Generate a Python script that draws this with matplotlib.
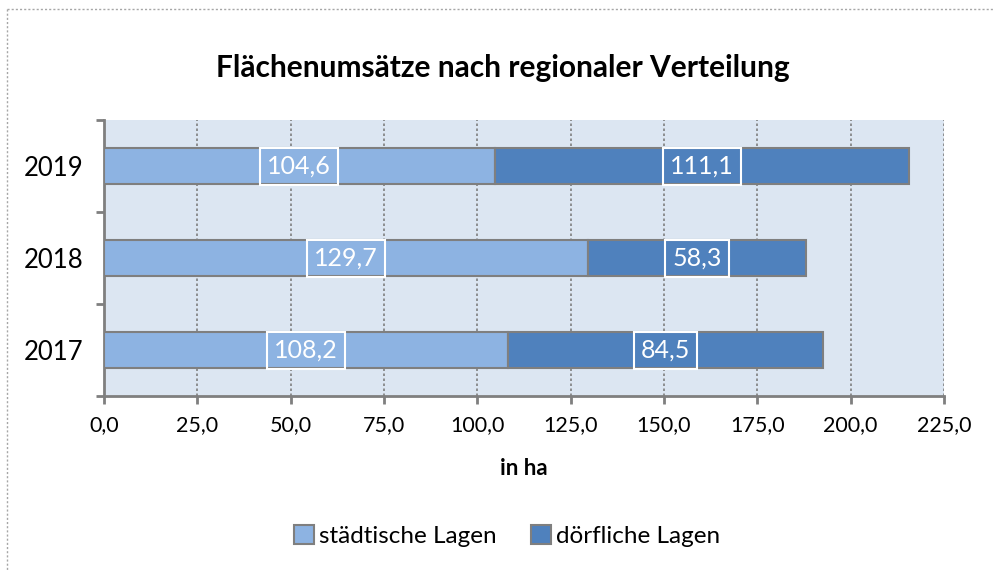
import matplotlib
matplotlib.use("Agg")
import matplotlib.pyplot as plt
from matplotlib.lines import Line2D
from matplotlib.patches import Patch
import numpy as np

plt.rcParams['font.family'] = ['Lato', 'DejaVu Sans']

years = ["2017", "2018", "2019"]
staedtisch = [108.2, 129.7, 104.6]
doerflich = [84.5, 58.3, 111.1]
series_names = ["städtische Lagen", "dörfliche Lagen"]
xticks = [0, 25, 50, 75, 100, 125, 150, 175, 200, 225]
xtick_labels = ["0,0", "25,0", "50,0", "75,0", "100,0", "125,0", "150,0", "175,0", "200,0", "225,0"]

c_light = "#8DB3E2"
c_dark = "#4F81BD"
edge = "#7F7F7F"

fig = plt.figure(figsize=(9.93, 5.70), dpi=100)
ax = fig.add_axes([104/993, 1-396/570, (944-104)/993, (396-120)/570])
ax.set_facecolor("#DCE6F2")

y = np.arange(len(years))
h = 0.4
ax.barh(y, staedtisch, height=h, color=c_light, edgecolor=edge, linewidth=1.5, zorder=3)
ax.barh(y, doerflich, left=staedtisch, height=h, color=c_dark, edgecolor=edge, linewidth=1.5, zorder=3)

def fmt(v):
    return f"{v:.1f}".replace(".", ",")

for yi, a, b in zip(y, staedtisch, doerflich):
    for x, v in ((a/2, a), (a + b/2, b)):
        ax.text(x, yi, fmt(v), ha="center", va="center", color="white", fontsize=18, zorder=5,
                bbox=dict(boxstyle="square,pad=0.28", fc="none", ec="white", lw=1.5))

ax.set_xlim(0, 225)
ax.set_ylim(-0.5, 2.5)
ax.set_xticks(xticks)
ax.set_xticklabels(xtick_labels, fontsize=15.5)
ax.set_yticks([-0.5, 0.5, 1.5, 2.5])
ax.set_yticklabels([])
ax.set_yticks(y, minor=True)
ax.set_yticklabels(years, minor=True, fontsize=18.5)
ax.tick_params(axis="y", which="minor", length=0, pad=15)
ax.tick_params(axis="y", which="major", length=6, width=2, color=edge, direction="out")
ax.tick_params(axis="x", length=6, width=2, color=edge, direction="out", pad=8)

ax.grid(axis="x", linestyle=(0, (1.5, 1.5)), color="#7F7F7F", linewidth=1.2, zorder=0)
ax.set_axisbelow(True)
for s in ("top", "right"):
    ax.spines[s].set_visible(False)
for s in ("left", "bottom"):
    ax.spines[s].set_color(edge)
    ax.spines[s].set_linewidth(2)

ax.set_xlabel("in ha", fontsize=16, fontweight="bold", labelpad=16)

fig.text(503/993, 1-68/570, "Flächenumsätze nach regionaler Verteilung", ha="center", va="center",
         fontsize=21.5, fontweight="bold")

handles = [Patch(facecolor=c_light, edgecolor=edge, linewidth=1.5),
           Patch(facecolor=c_dark, edgecolor=edge, linewidth=1.5)]
fig.legend(handles, series_names, loc="center", bbox_to_anchor=(507/993, 1-536/570), ncol=2,
           frameon=False, fontsize=17.5, handlelength=0.8, handleheight=0.8, handletextpad=0.2,
           columnspacing=1.45)

# dotted outer border
bx0, by0 = 7/993, 1-9/570
fig.add_artist(Line2D([bx0, 1.0], [by0, by0], transform=fig.transFigure, color="#A6A6A6",
                      linestyle=(0, (1.5, 1.5)), linewidth=1))
fig.add_artist(Line2D([bx0, bx0], [by0, 0.0], transform=fig.transFigure, color="#A6A6A6",
                      linestyle=(0, (1.5, 1.5)), linewidth=1))

fig.savefig("out.png", dpi=100)
